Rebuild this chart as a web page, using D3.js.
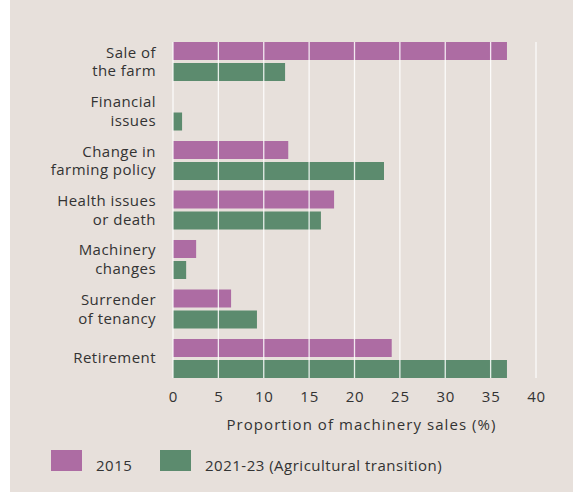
<!DOCTYPE html>
<html>
<head>
<meta charset="utf-8">
<script src="https://cdn.jsdelivr.net/npm/d3@7"></script>
<style>
  body { margin: 0; background: #fff; }
  svg { display: block; }
  text { font-family: "Open Sans", sans-serif; fill: #333; }
</style>
</head>
<body>
<svg id="chart" width="573" height="492"></svg>
<script>
// categories (two-line labels split with "|")
const categories = [
	"Sale of|the farm",
	"Financial|issues",
	"Change in|farming policy",
	"Health issues|or death",
	"Machinery|changes",
	"Surrender|of tenancy",
	"Retirement"
];
const series = ["2015", "2021-23 (Agricultural transition)"];
const values2015 = [36.8, 0, 12.7, 17.75, 2.55, 6.4, 24.1];
const values2021 = [12.35, 1.0, 23.25, 16.3, 1.45, 9.25, 36.8];
const xTicks = [0, 5, 10, 15, 20, 25, 30, 35, 40];
const colors = ["#ad6ca3", "#5c8b6e"];

const svg = d3.select("#chart"),
	width = +svg.attr("width"),
	height = +svg.attr("height");

// beige panel, leaves a thin white strip on the left
svg.append("rect")
	.attr("x", 10).attr("y", 0)
	.attr("width", width - 10).attr("height", height)
	.attr("fill", "#e7e0db");

const x = d3.scaleLinear().domain([0, 40]).range([173, 536]);

const y = d3.scaleBand()
	.domain(categories)
	.range([42, 378])
	.paddingInner(0.212)
	.paddingOuter(0);

const ySub = d3.scaleBand()
	.domain(series)
	.range([0, y.bandwidth()])
	.paddingInner(0.143);

const rows = categories.map((c, i) => ({cat: c, vals: [values2015[i], values2021[i]]}));

// bars
const groups = svg.append("g").selectAll("g")
	.data(rows)
	.enter().append("g")
	.attr("transform", d => `translate(0,${y(d.cat)})`);

groups.selectAll("rect")
	.data(d => d.vals.map((v, j) => ({v: v, s: series[j], c: colors[j]})))
	.enter().append("rect")
	.attr("x", x(0))
	.attr("y", d => ySub(d.s))
	.attr("height", ySub.bandwidth())
	.attr("width", d => x(d.v) - x(0))
	.attr("fill", d => d.c);

// gridlines drawn over the bars
svg.append("g").selectAll("line")
	.data(xTicks)
	.enter().append("line")
	.attr("x1", d => x(d)).attr("x2", d => x(d))
	.attr("y1", 42).attr("y2", 378)
	.attr("stroke", "#fff")
	.attr("stroke-opacity", 0.85)
	.attr("stroke-width", 1.3);

// category labels
const labels = svg.append("g").selectAll("text")
	.data(categories)
	.enter().append("text")
	.attr("text-anchor", "end")
	.attr("font-size", 15)
	.attr("letter-spacing", 0.45)
	.attr("x", 156)
	.attr("y", d => y(d) + y.bandwidth() / 2);

labels.each(function(d) {
	const parts = d.split("|");
	const t = d3.select(this);
	parts.forEach((p, k) => {
		t.append("tspan")
			.attr("x", 156)
			.attr("dy", parts.length === 1 ? 4.5 : (k === 0 ? -4 : 18.6))
			.text(p);
	});
});

// x axis
const xAxis = d3.axisBottom(x)
	.tickValues(xTicks)
	.tickSize(0)
	.tickPadding(0);

const axisG = svg.append("g")
	.attr("transform", "translate(0,390)")
	.call(xAxis);
axisG.select(".domain").remove();
axisG.selectAll("text")
	.attr("font-size", 15)
	.attr("font-family", "'Open Sans', sans-serif")
	.attr("letter-spacing", 0.8)
	.attr("fill", "#333")
	.attr("dy", "0.78em");

svg.append("text")
	.attr("x", 361.5)
	.attr("y", 429.5)
	.attr("text-anchor", "middle")
	.attr("font-size", 15)
	.attr("letter-spacing", 1.05)
	.text("Proportion of machinery sales (%)");

// legend
const legendX = [51, 160];
const legend = svg.append("g").selectAll("g")
	.data(series)
	.enter().append("g")
	.attr("transform", (d, i) => `translate(${legendX[i]},450)`);

legend.append("rect")
	.attr("width", 31).attr("height", 21)
	.attr("fill", (d, i) => colors[i]);

legend.append("text")
	.attr("x", 45)
	.attr("y", 21)
	.attr("font-size", 15)
	.attr("letter-spacing", 0.5)
	.text(d => d);
</script>
</body>
</html>
